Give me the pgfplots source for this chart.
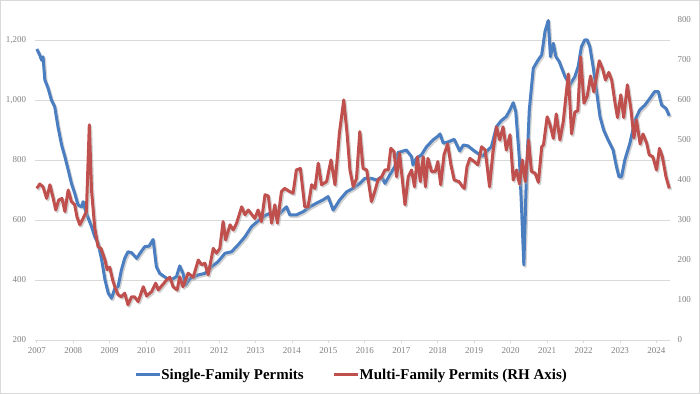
\documentclass[border=0pt]{standalone}
\usepackage{fontspec}
\setmainfont{Liberation Serif}
\usepackage{pgfplots}
\usepackage{pgfplotstable}
\pgfplotsset{compat=1.18}
\definecolor{sfblue}{RGB}{74,126,193}
\definecolor{mfred}{RGB}{192,80,77}
\definecolor{gridgray}{RGB}{217,217,217}
\definecolor{ticklab}{RGB}{128,128,128}

\pgfplotstableread{
t v
2007.00 1170
2007.08 1150
2007.13 1133
2007.17 1144
2007.22 1067
2007.31 1039
2007.40 1000
2007.49 978
2007.58 911
2007.68 850
2007.77 811
2007.86 767
2007.95 722
2008.04 689
2008.13 650
2008.23 644
2008.27 661
2008.36 622
2008.50 578
2008.59 544
2008.68 522
2008.78 467
2008.87 400
2008.96 356
2009.05 339
2009.14 372
2009.23 378
2009.32 433
2009.41 472
2009.50 494
2009.60 491
2009.74 472
2009.83 489
2009.96 511
2010.08 513
2010.19 535
2010.28 444
2010.37 422
2010.56 406
2010.70 402
2010.83 411
2010.92 447
2011.01 422
2011.08 383
2011.20 405
2011.43 417
2011.61 422
2011.79 444
2011.97 461
2012.16 489
2012.34 494
2012.52 517
2012.71 544
2012.89 578
2013.07 597
2013.26 615
2013.39 622
2013.53 625
2013.67 622
2013.85 644
2013.94 617
2014.12 617
2014.31 628
2014.49 644
2014.67 656
2014.85 667
2014.99 678
2015.13 633
2015.31 667
2015.50 694
2015.68 706
2015.86 722
2016.00 739
2016.18 739
2016.32 733
2016.46 744
2016.55 722
2016.68 750
2016.82 778
2016.91 825
2017.00 828
2017.14 833
2017.28 811
2017.32 783
2017.41 805
2017.55 817
2017.69 844
2017.87 867
2018.01 880
2018.06 887
2018.15 856
2018.30 861
2018.45 869
2018.60 830
2018.70 850
2018.83 847
2018.97 833
2019.10 822
2019.24 813
2019.33 828
2019.47 844
2019.61 911
2019.74 931
2019.88 945
2019.98 967
2020.07 991
2020.14 960
2020.24 800
2020.30 633
2020.36 450
2020.43 744
2020.51 967
2020.62 1106
2020.75 1133
2020.85 1150
2020.94 1228
2021.03 1265
2021.09 1144
2021.17 1189
2021.24 1144
2021.33 1128
2021.49 1078
2021.62 1050
2021.76 1078
2021.85 1111
2021.94 1178
2022.03 1200
2022.10 1200
2022.17 1178
2022.26 1111
2022.35 1033
2022.45 944
2022.55 900
2022.67 867
2022.81 833
2022.90 778
2022.97 744
2023.04 744
2023.13 800
2023.27 856
2023.41 933
2023.54 967
2023.68 983
2023.82 1006
2023.95 1028
2024.05 1028
2024.14 983
2024.26 972
2024.35 947
}\singlefam

\pgfplotstableread{
t v
2007.00 379
2007.08 390
2007.17 383
2007.27 354
2007.36 388
2007.44 358
2007.52 325
2007.60 350
2007.69 354
2007.77 321
2007.86 375
2007.95 346
2008.04 338
2008.10 308
2008.18 288
2008.27 304
2008.36 321
2008.44 538
2008.50 375
2008.59 279
2008.68 233
2008.76 229
2008.87 200
2008.93 176
2009.00 182
2009.08 150
2009.14 133
2009.23 113
2009.32 108
2009.41 117
2009.50 88
2009.60 108
2009.68 108
2009.78 96
2009.92 133
2010.01 110
2010.15 121
2010.26 142
2010.33 125
2010.45 138
2010.56 150
2010.65 157
2010.74 133
2010.85 125
2010.92 158
2011.01 133
2011.15 167
2011.29 157
2011.43 200
2011.52 188
2011.61 192
2011.70 163
2011.84 229
2011.93 217
2012.02 229
2012.11 296
2012.18 250
2012.30 288
2012.39 275
2012.48 292
2012.62 333
2012.71 313
2012.80 325
2012.98 304
2013.07 325
2013.16 296
2013.26 363
2013.35 360
2013.44 292
2013.53 338
2013.60 292
2013.71 371
2013.80 379
2013.94 371
2014.03 367
2014.12 425
2014.23 429
2014.35 333
2014.44 333
2014.54 388
2014.63 379
2014.72 442
2014.81 388
2014.95 396
2015.07 450
2015.18 388
2015.30 517
2015.42 600
2015.51 517
2015.59 425
2015.68 383
2015.77 404
2015.86 521
2015.95 429
2016.05 425
2016.18 346
2016.27 371
2016.36 400
2016.46 408
2016.55 425
2016.64 425
2016.71 479
2016.80 471
2016.87 408
2016.95 467
2017.10 338
2017.19 408
2017.28 425
2017.36 383
2017.44 458
2017.52 396
2017.60 458
2017.66 383
2017.73 454
2017.83 421
2017.93 421
2018.00 446
2018.08 388
2018.17 463
2018.27 490
2018.36 438
2018.45 400
2018.58 396
2018.68 383
2018.73 379
2018.80 433
2018.88 454
2019.00 446
2019.10 438
2019.20 483
2019.30 475
2019.42 383
2019.51 467
2019.61 533
2019.70 500
2019.79 533
2019.88 475
2019.98 513
2020.07 400
2020.16 425
2020.24 390
2020.32 450
2020.40 396
2020.49 500
2020.57 421
2020.67 417
2020.76 394
2020.85 483
2020.90 488
2021.00 558
2021.08 538
2021.17 504
2021.25 565
2021.35 500
2021.44 545
2021.58 665
2021.67 515
2021.76 570
2021.84 573
2021.92 708
2022.01 592
2022.10 610
2022.19 660
2022.28 620
2022.43 698
2022.52 678
2022.60 650
2022.69 669
2022.77 650
2022.85 600
2022.93 556
2023.02 613
2023.10 556
2023.20 638
2023.30 575
2023.38 505
2023.45 550
2023.55 490
2023.63 515
2023.73 492
2023.80 463
2023.90 458
2024.00 425
2024.08 479
2024.16 458
2024.26 408
2024.35 379
}\multifam

\begin{document}
\begin{tikzpicture}
\pgfplotsset{
  base/.style={
    scale only axis, width=635bp, height=320bp,
    xmin=2006.95, xmax=2024.37,
    axis line style={draw=none},
    tick label style={font=\fontsize{9}{10}\selectfont, text=ticklab},
    /pgf/number format/assume math mode=true,
    clip=false,
  },
}
\begin{axis}[base,
  ymin=200, ymax=1266.67,
  ytick={200,400,...,1200},
  xtick={2007,...,2024},
  tick pos=left,
  tick align=outside,
  major tick length=3.5bp,
  ytick style={draw=none},
  xtick style={draw=gridgray, line width=0.8bp},
  ymajorgrids, grid style={gridgray, line width=0.8bp},
  xticklabel style={/pgf/number format/1000 sep={}, yshift=-1bp},
  yticklabel style={/pgf/number format/1000 sep={,}, xshift=-2bp},
]
\addplot[draw=black!35, opacity=0.5, line width=3bp, line join=round, xshift=1.3bp, yshift=-1.6bp, forget plot] table[x=t,y=v] {\singlefam};
\addplot[sfblue, line width=3bp, line join=round] table[x=t,y=v] {\singlefam};
\end{axis}
\begin{axis}[base,
  ymin=0, ymax=800,
  ytick={0,100,...,800},
  axis x line=none,
  axis y line*=right,
  ytick style={draw=none},
  yticklabel style={xshift=4bp},
  legend style={draw=none, fill=none, at={(0.497,-0.109)}, anchor=center,
    font=\bfseries\fontsize{15}{18}\selectfont, legend columns=2,
    /tikz/every even column/.append style={column sep=29bp},
    nodes={inner sep=0pt}},
  legend image code/.code={\draw[#1] (0bp,0bp) -- (24bp,0bp);},
]
\addlegendimage{sfblue, line width=3bp}
\addlegendentry{Single-Family Permits}
\addplot[draw=black!35, opacity=0.5, line width=3bp, line join=round, xshift=1.3bp, yshift=-1.6bp, forget plot] table[x=t,y=v] {\multifam};
\addplot[mfred, line width=3bp, line join=round] table[x=t,y=v] {\multifam};
\addlegendentry{Multi-Family Permits (RH Axis)}
\end{axis}
\pgfresetboundingbox
\path[use as bounding box] ([xshift=-35bp,yshift=-54bp]current axis.south west) rectangle ([xshift=30bp,yshift=20bp]current axis.north east);
\draw[gridgray, line width=1bp] ([xshift=-34.5bp,yshift=-53.5bp]current axis.south west) rectangle ([xshift=29.5bp,yshift=19.5bp]current axis.north east);
\end{tikzpicture}
\end{document}
